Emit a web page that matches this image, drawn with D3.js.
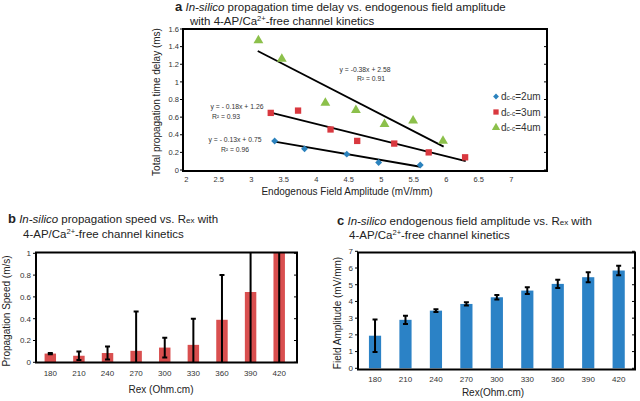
<!DOCTYPE html>
<html><head><meta charset="utf-8">
<script src="https://cdn.jsdelivr.net/npm/d3@7"></script>
<style>body{margin:0;background:#fff}svg{display:block;font-family:"Liberation Sans",Arial,sans-serif}</style>
</head><body>
<script>
// ---------- Panel a data ----------
const seriesNames = ["2um", "3um", "4um"];
const blueX = [3.36, 3.82, 4.47, 4.96, 5.60];
const blueY = [0.33, 0.24, 0.18, 0.085, 0.057];
const redX = [3.30, 3.72, 4.22, 4.63, 5.20, 5.73, 6.29];
const redY = [0.648, 0.674, 0.46, 0.33, 0.30, 0.20, 0.144];
const greenX = [3.11, 3.47, 4.14, 4.61, 5.05, 5.49, 5.95];
const greenY = [1.47, 1.26, 0.76, 0.68, 0.52, 0.56, 0.33];
// trend line end points [x0, y0, x1, y1]
const blueFit = [3.36, 0.322, 5.60, 0.037];
const redFit = [3.30, 0.65, 6.30, 0.10];
const greenFit = [3.10, 1.35, 5.96, 0.265];
const fitEq = ["y = - 0.13x + 0.75", "y = - 0.18x + 1.26", "y = -0.38x + 2.58"];
const fitR2 = ["R² = 0.96", "R² = 0.93", "R² = 0.91"];
const aXTicks = [2, 2.5, 3, 3.5, 4, 4.5, 5, 5.5, 6, 6.5, 7];
const aYTicks = [0, 0.2, 0.4, 0.6, 0.8, 1, 1.2, 1.4, 1.6];

// ---------- Panel b/c data ----------
const rexCats = ["180", "210", "240", "270", "300", "330", "360", "390", "420"];
const speed = [0.08, 0.06, 0.085, 0.105, 0.135, 0.16, 0.39, 0.645, 1.1];
const speedErr = [0.006, 0.04, 0.06, 0.36, 0.09, 0.24, 0.41, 0.7, 1.2];
const bYTicks = [0, 0.2, 0.4, 0.6, 0.8, 1];
const field = [1.95, 2.9, 3.45, 3.85, 4.25, 4.65, 5.05, 5.45, 5.85];
const fieldErr = [0.97, 0.25, 0.08, 0.1, 0.13, 0.2, 0.25, 0.3, 0.28];
const cYTicks = [0, 1, 2, 3, 4, 5, 6, 7];

const W = 640, H = 401;
const svg = d3.select("body").append("svg").attr("width", W).attr("height", H);
const TXT = "#222";

function title(g, letter, x, y, line1rest, line1rex) {
  const t = g.append("text").attr("x", x).attr("y", y).attr("font-size", 11.5).attr("fill", TXT);
  t.append("tspan").text(letter).attr("font-weight", "bold").attr("font-size", 13);
  t.append("tspan").text(" ").attr("font-size", 11.5);
  t.append("tspan").text("In-silico").attr("font-style", "italic");
  t.append("tspan").text(line1rest);
  if (line1rex) {
    t.append("tspan").text("R");
    t.append("tspan").text("ex").attr("font-size", 8);
    t.append("tspan").text(" with");
  }
  return t;
}
function line2(g, x, y, pre) {
  const t = g.append("text").attr("x", x).attr("y", y).attr("font-size", 11.5).attr("fill", TXT);
  t.append("tspan").text(pre + "4-AP/Ca");
  t.append("tspan").text("2+").attr("font-size", 7.5).attr("dy", -4);
  t.append("tspan").text("-free channel kinetics").attr("dy", 4);
}

// ================= Panel a =================
{
  const g = svg.append("g");
  const x = d3.scaleLinear().domain([1.95, 7.55]).range([183, 547]);
  const y = d3.scaleLinear().domain([0, 1.6]).range([170, 29]);
  const fl = 183, fr = 547, ft = 29, fb = 171;

  title(g, "a", 175, 11, " propagation time delay vs. endogenous field amplitude", false);
  line2(g, 190, 25, "with ");

  aYTicks.forEach(v => {
    g.append("line").attr("x1", fl - 3).attr("x2", fl).attr("y1", y(v)).attr("y2", y(v)).attr("stroke", "#000");
    g.append("line").attr("x1", fr - 3).attr("x2", fr).attr("y1", y(v)).attr("y2", y(v)).attr("stroke", "#000");
    g.append("text").attr("x", fl - 4).attr("y", y(v)).attr("dy", "0.35em").attr("text-anchor", "end")
      .attr("font-size", 7.5).attr("fill", "#333").text(v);
  });
  aXTicks.forEach(v => {
    g.append("text").attr("x", x(v)).attr("y", fb + 11).attr("text-anchor", "middle")
      .attr("font-size", 7.5).attr("fill", "#333").text(v);
  });
  g.append("rect").attr("x", fl).attr("y", ft).attr("width", fr - fl).attr("height", fb - ft)
    .attr("fill", "none").attr("stroke", "#000").attr("stroke-width", 2);

  [blueFit, redFit, greenFit].forEach(f => {
    g.append("line").attr("x1", x(f[0])).attr("y1", y(f[1])).attr("x2", x(f[2])).attr("y2", y(f[3]))
      .attr("stroke", "#000").attr("stroke-width", 1.8);
  });

  const cols = ["#2b82bd", "#d9383f", "#8cc04b"];
  const sym = [d3.symbolSquare, d3.symbolSquare, d3.symbolTriangle];
  const sizes = [24, 40, 42];
  const rot = [" rotate(45)", "", ""];
  [[blueX, blueY], [redX, redY], [greenX, greenY]].forEach((s, i) => {
    s[0].forEach((xv, j) => {
      g.append("path").attr("d", d3.symbol(sym[i], sizes[i])())
        .attr("transform", `translate(${x(xv)},${y(s[1][j])})` + rot[i])
        .attr("fill", cols[i]);
    });
  });

  const eqPos = [[235, 140, 235, 149.5], [237, 107, 226, 116.5], [365, 70, 371, 79]];
  eqPos.forEach((p, i) => {
    g.append("text").attr("x", p[0]).attr("y", p[1]).attr("dy", "0.35em").attr("text-anchor", "middle")
      .attr("font-size", 6.8).attr("fill", "#333").text(fitEq[i]);
    g.append("text").attr("x", p[2]).attr("y", p[3]).attr("dy", "0.35em").attr("text-anchor", "middle")
      .attr("font-size", 6.8).attr("fill", "#333").text(fitR2[i]);
  });

  seriesNames.forEach((n, i) => {
    const ly = 96.5 + i * 15.5;
    g.append("path").attr("d", d3.symbol(sym[i], sizes[i] * 0.7)())
      .attr("transform", `translate(496,${ly})` + rot[i]).attr("fill", cols[i]);
    const t = g.append("text").attr("x", 501).attr("y", ly).attr("dy", "0.35em").attr("font-size", 10).attr("fill", "#333");
    t.append("tspan").text("d");
    t.append("tspan").text("c-c").attr("font-size", 6.5);
    t.append("tspan").text("=" + n);
  });

  g.append("text").attr("transform", `translate(160,102) rotate(-90)`).attr("text-anchor", "middle")
    .attr("font-size", 10).attr("fill", TXT).text("Total  propagation time delay (ms)");
  g.append("text").attr("x", 347).attr("y", 195).attr("text-anchor", "middle")
    .attr("font-size", 10).attr("fill", TXT).text("Endogenous Field Amplitude (mV/mm)");
}

// ================= bar panel helper =================
function barPanel(opt) {
  const g = svg.append("g");
  const { fl, fr, ft, fb } = opt;
  const x = d3.scaleBand().domain(rexCats).range(opt.xr).paddingInner(0.6).paddingOuter(0.3);
  const y = d3.scaleLinear().domain(opt.yd).range(opt.yr);
  const clipId = "clip" + opt.id;
  g.append("clipPath").attr("id", clipId).append("rect")
    .attr("x", fl).attr("y", ft).attr("width", fr - fl).attr("height", fb - ft);

  opt.ticks.forEach(v => {
    g.append("line").attr("x1", fl - 3).attr("x2", fl).attr("y1", y(v)).attr("y2", y(v)).attr("stroke", "#000");
    g.append("line").attr("x1", fr - 3).attr("x2", fr).attr("y1", y(v)).attr("y2", y(v)).attr("stroke", "#000");
    g.append("text").attr("x", fl - 5).attr("y", y(v)).attr("dy", "0.35em").attr("text-anchor", "end")
      .attr("font-size", 8).attr("fill", "#333").text(v);
  });
  const cg = g.append("g").attr("clip-path", `url(#${clipId})`);
  rexCats.forEach((c, i) => {
    const v = opt.vals[i], e = opt.errs[i];
    cg.append("rect").attr("x", x(c)).attr("y", y(v)).attr("width", x.bandwidth())
      .attr("height", y(0) - y(v)).attr("fill", opt.color);
    const cx = x(c) + x.bandwidth() / 2;
    const lo = Math.max(v - e, opt.yd[0]);
    cg.append("line").attr("x1", cx).attr("x2", cx).attr("y1", y(v + e)).attr("y2", y(lo) + (v - e < 0 ? 5 : 0))
      .attr("stroke", "#000").attr("stroke-width", 2);
    cg.append("line").attr("x1", cx - 2.5).attr("x2", cx + 2.5).attr("y1", y(v + e)).attr("y2", y(v + e))
      .attr("stroke", "#000").attr("stroke-width", 2);
    if (v - e > opt.yd[0])
      cg.append("line").attr("x1", cx - 2.5).attr("x2", cx + 2.5).attr("y1", y(v - e)).attr("y2", y(v - e))
        .attr("stroke", "#000").attr("stroke-width", 2);
    g.append("text").attr("x", cx).attr("y", opt.xlabY).attr("dy", "0.35em").attr("text-anchor", "middle")
      .attr("font-size", 8).attr("fill", "#333").text(c);
  });
  g.append("rect").attr("x", fl).attr("y", ft).attr("width", fr - fl).attr("height", fb - ft)
    .attr("fill", "none").attr("stroke", "#000").attr("stroke-width", 2);
  g.append("text").attr("transform", `translate(${opt.ylX},${opt.ylY}) rotate(-90)`).attr("text-anchor", "middle")
    .attr("font-size", 10).attr("fill", TXT).text(opt.ylab);
  g.append("text").attr("x", opt.xtX).attr("y", opt.xtY).attr("text-anchor", "middle")
    .attr("font-size", 10).attr("fill", TXT).text(opt.xlab);
  return g;
}

// ================= Panel b =================
{
  const g = barPanel({
    id: "b", fl: 36, fr: 297, ft: 252.5, fb: 362.5, xr: [36, 293.5], yd: [0, 1], yr: [362.3, 253.3],
    ticks: bYTicks, vals: speed, errs: speedErr, color: "#d94f4f", xlabY: 373.5,
    ylab: "Propagation Speed (m/s)", ylX: 10, ylY: 311, xlab: "Rex (Ohm.cm)", xtX: 161, xtY: 393
  });
  title(g, "b", 8, 223, " propagation speed vs. ", true);
  line2(g, 23, 237.5, "");
}

// ================= Panel c =================
{
  const g = barPanel({
    id: "c", fl: 358, fr: 635, ft: 252.5, fb: 369.5, xr: [359.8, 633.9], yd: [0, 7], yr: [368.3, 251.3],
    ticks: cYTicks, vals: field, errs: fieldErr, color: "#2b82c6", xlabY: 379.5,
    ylab: "Field Amplitude (mV/mm)", ylX: 341, ylY: 313, xlab: "Rex(Ohm.cm)", xtX: 493, xtY: 396
  });
  title(g, "c", 337, 224.5, " endogenous field amplitude vs. ", true);
  line2(g, 349, 239, "");
}
</script>
</body></html>
